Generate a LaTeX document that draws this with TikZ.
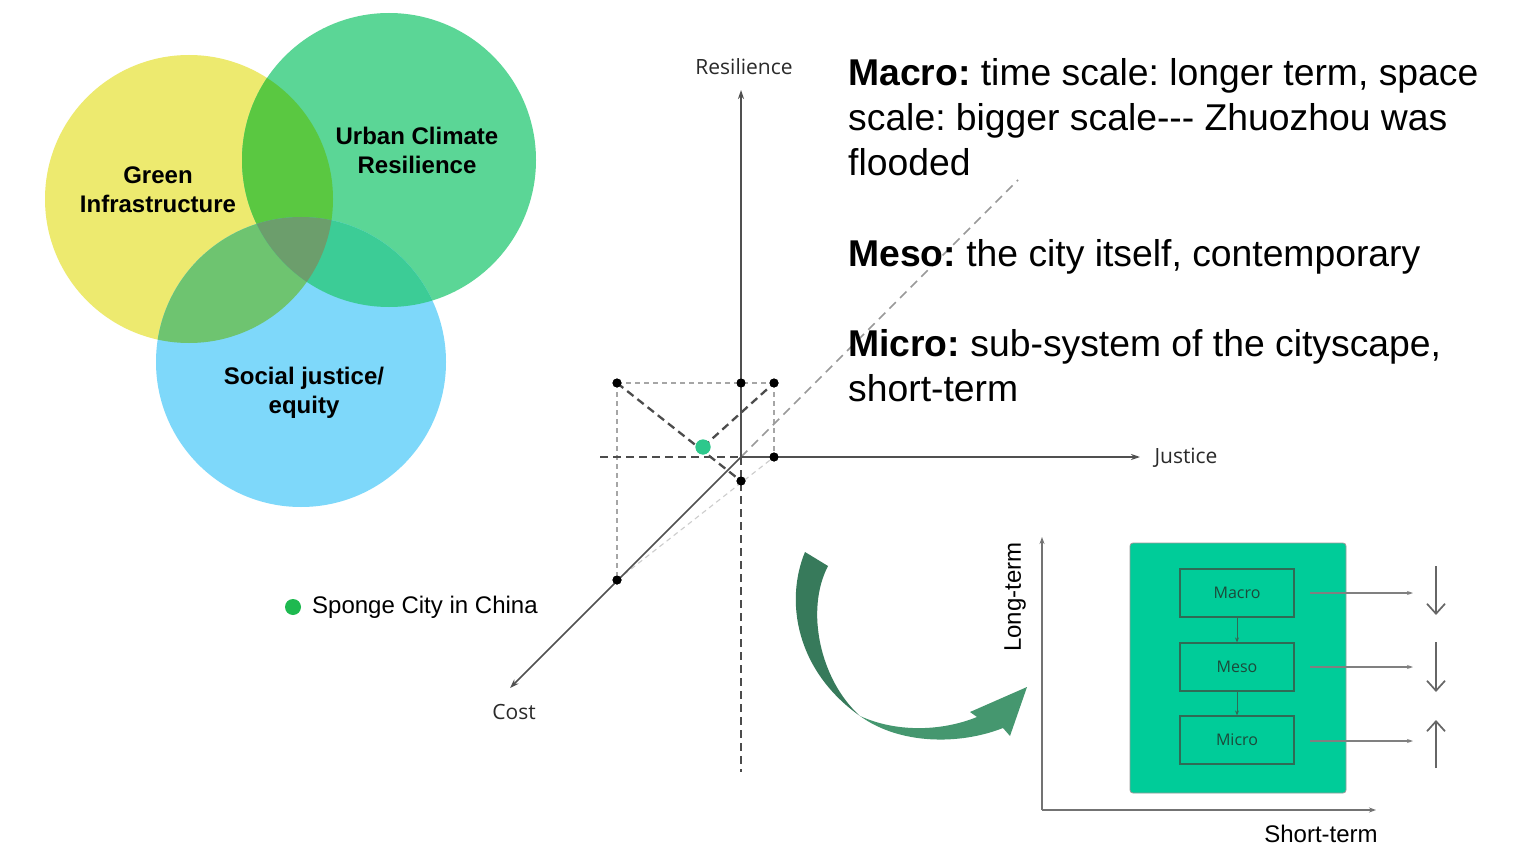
\documentclass[tikz,border=0pt]{standalone}
\usepackage{fontspec}
\setmainfont{Liberation Sans}
\newfontfamily\axisfont{Open Sans}
\usetikzlibrary{arrows.meta}
\frenchspacing

\definecolor{yellowC}{HTML}{EDEA6F}
\definecolor{greenC}{HTML}{5BD696}
\definecolor{blueC}{HTML}{7ED8FA}
\definecolor{ygC}{HTML}{5AC841}
\definecolor{ybC}{HTML}{6EC470}
\definecolor{gbC}{HTML}{3CCC96}
\definecolor{ygbC}{HTML}{6C9E6C}
\definecolor{axisgray}{HTML}{505050}
\definecolor{labelgray}{HTML}{2A2A2A}
\definecolor{spongeC}{HTML}{2DC88C}
\definecolor{legendC}{HTML}{1EB950}
\definecolor{boxgreen}{HTML}{00CC99}
\definecolor{boxline}{HTML}{2F6B55}
\definecolor{boxtext}{HTML}{1C4A3A}
\definecolor{arrowdark}{HTML}{377A5B}
\definecolor{arrowlight}{HTML}{45976F}

\tikzset{
  venntext/.style={font=\bfseries\fontsize{24}{29}\selectfont, align=center, text=black},
  bigline/.style={font=\fontsize{37.3}{45}\selectfont, anchor=base west, inner sep=0pt},
  axisline/.style={draw=axisgray, line width=1.6pt, -{Stealth[length=9pt,width=6pt]}},
  axislabel/.style={font=\axisfont\fontsize{21}{24}\selectfont, text=labelgray},
  blackdot/.style={circle, fill=black, inner sep=0pt, minimum size=9pt},
  heavydash/.style={draw=black!70, line width=2.3pt, dash pattern=on 8pt off 5pt},
  lightdash/.style={draw=black!35, line width=1.1pt, dash pattern=on 5pt off 4pt},
  longdash/.style={draw=black!40, line width=1.7pt, dash pattern=on 9pt off 6pt},
  smallaxis/.style={draw=black!55, line width=1.3pt, -{Stealth[length=7pt,width=5pt]}},
  levelbox/.style={draw=boxline, line width=1.2pt, minimum width=114pt, minimum height=48pt,
                   font=\axisfont\fontsize{16}{18}\selectfont, text=boxtext},
  outarrow/.style={draw=black!50, line width=1.1pt, -{Stealth[length=6pt,width=4pt]}},
  trendarrow/.style={draw=black!60, line width=1.7pt, -{Straight Barb[length=10pt,width=18pt]}},
  plainlabel/.style={font=\fontsize{24}{28}\selectfont, text=black}
}

\begin{document}
\begin{tikzpicture}[x=1pt,y=-1pt]
\useasboundingbox (0,0) rectangle (1513,853);
\fill[white] (0,0) rectangle (1513,853);

% ---------- Venn diagram ----------
\def\circY{(189,199) circle[radius=144]}
\def\circG{(389,160) circle[radius=147]}
\def\circB{(301,362) circle[radius=145]}
\fill[yellowC] \circY;
\fill[greenC] \circG;
\fill[blueC] \circB;
\begin{scope}\clip \circY; \fill[ygC] \circG; \end{scope}
\begin{scope}\clip \circY; \fill[ybC] \circB; \end{scope}
\begin{scope}\clip \circG; \fill[gbC] \circB; \end{scope}
\begin{scope}\clip \circY; \clip \circG; \fill[ygbC] \circB; \end{scope}

\node[venntext] (gi) at (158,190) {Green\\Infrastructure};
\node[venntext] (ucr) at (417,150) {Urban Climate\\Resilience};
\node[venntext] (sje) at (304,393) {Social justice/\\equity};

% ---------- legend ----------
\node[circle, fill=legendC, inner sep=0pt, minimum size=16pt] (legdot) at (293,607) {};
\node[plainlabel, anchor=west, inner sep=0pt] (legtext) at (312,607) {Sponge City in China};

% ---------- three-axis sketch ----------
\coordinate (O) at (741,457);
\coordinate (Rtip) at (741,90);
\coordinate (Jtip) at (1140,457);
\coordinate (Ctip) at (510,688);
\coordinate (Dend) at (1018,180);
\coordinate (hL) at (600,457);
\coordinate (vB) at (741,772);

\node[blackdot] (pTL) at (617,383) {};
\node[blackdot] (pTM) at (741,383) {};
\node[blackdot] (pTR) at (774,383) {};
\node[blackdot] (pJ) at (774,457) {};
\node[blackdot] (pB) at (741,481) {};
\node[blackdot] (pC) at (617,580) {};

% guide lines
\draw[lightdash] (pTL.center) -- (pTR.center);
\draw[lightdash] (pTL.center) -- (pC.center);
\draw[lightdash] (pTR.center) -- (pJ.center);
\draw[lightdash, draw=black!20] (pC.center) -- (pJ.center);
\draw[longdash] (O) -- (Dend);
\draw[heavydash] (hL) -- (O);
\draw[heavydash, line width=1.9pt] (O) -- (vB);
\draw[heavydash] (pTL.center) -- (pB.center);

% axes
\draw[axisline] (O) -- (Rtip);
\draw[axisline] (O) -- (Jtip);
\draw[axisline] (O) -- (Ctip);

\node[circle, fill=spongeC, inner sep=0pt, minimum size=15pt] (sc) at (703,447) {};
\draw[heavydash] (sc.center) -- (pTR.center);
\node[circle, fill=spongeC, inner sep=0pt, minimum size=15pt] at (sc) {};

% keep the marked points on top of the lines running through them
\foreach \p in {pTL,pTM,pTR,pJ,pB,pC}
  \fill[black] (\p) circle[radius=4.5];

\node[axislabel] (resl) at (744,67) {Resilience};
\node[axislabel] (justl) at (1186,458) {Justice};
\node[axislabel] (costl) at (514,712) {Cost};

% ---------- text block ----------
\node[bigline] (ma1) at (848,86) {\textbf{Macro:} time scale: longer term, space};
\node[bigline] (ma2) at (848,131) {scale: bigger scale-{}-{}- Zhuozhou was};
\node[bigline] (ma3) at (848,176) {flooded};
\node[bigline] (me1) at (848,266) {\textbf{Meso:} the city itself, contemporary};
\node[bigline] (mi1) at (848,356) {\textbf{Micro:} sub-system of the cityscape,};
\node[bigline] (mi2) at (848,401) {short-term};

% ---------- curved arrow ----------
\fill[arrowdark] (805,552) .. controls (785,600) and (795,670) .. (860,716)
  .. controls (820,680) and (805,610) .. (828,566) -- cycle;
\fill[arrowlight] (860,716) .. controls (900,745) and (960,745) .. (1003,728)
  -- (1010,736) -- (1027,687) -- (970,712) -- (977,717)
  .. controls (940,732) and (895,732) .. (860,716) -- cycle;

% ---------- time-scale chart ----------
\coordinate (ax0) at (1042,810);
\coordinate (axY) at (1042,537);
\coordinate (axX) at (1376,810);
\draw[smallaxis] (ax0) -- (axY);
\draw[smallaxis] (ax0) -- (axX);
\node[plainlabel, rotate=90] (longt) at (1015,597) {Long-term};
\node[plainlabel] (shortt) at (1321,834) {Short-term};

\node[draw=black!40, line width=0.8pt, fill=boxgreen, rounded corners=3pt,
      minimum width=216pt, minimum height=250pt] (panel) at (1238,668) {};
\node[levelbox] (bmacro) at (1237,593) {Macro};
\node[levelbox] (bmeso) at (1237,667) {Meso};
\node[levelbox] (bmicro) at (1237,740) {Micro};
\draw[draw=boxline, line width=1pt, -{Stealth[length=5pt,width=4pt]}] (bmacro) -- (bmeso);
\draw[draw=boxline, line width=1pt, -{Stealth[length=5pt,width=4pt]}] (bmeso) -- (bmicro);

\coordinate (s1) at (1310,593); \coordinate (e1) at (1413,593);
\coordinate (s2) at (1310,667); \coordinate (e2) at (1413,667);
\coordinate (s3) at (1310,741); \coordinate (e3) at (1413,741);
\draw[outarrow] (s1) -- (e1);
\draw[outarrow] (s2) -- (e2);
\draw[outarrow] (s3) -- (e3);

\coordinate (t1a) at (1436,566); \coordinate (t1b) at (1436,615);
\coordinate (t2a) at (1436,642); \coordinate (t2b) at (1436,692);
\coordinate (t3a) at (1436,768); \coordinate (t3b) at (1436,720);
\draw[trendarrow] (t1a) -- (t1b);
\draw[trendarrow] (t2a) -- (t2b);
\draw[trendarrow] (t3a) -- (t3b);
\end{tikzpicture}
\end{document}
